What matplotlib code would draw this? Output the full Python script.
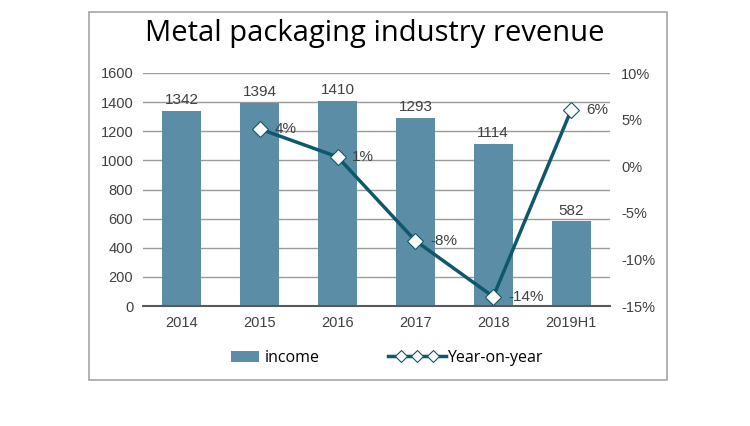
import matplotlib
matplotlib.use("Agg")
import matplotlib.pyplot as plt
from matplotlib.patches import Rectangle, Patch
from matplotlib.lines import Line2D
from matplotlib.legend_handler import HandlerTuple, HandlerLine2D
from matplotlib.ticker import FuncFormatter

years = ["2014", "2015", "2016", "2017", "2018", "2019H1"]
income = [1342, 1394, 1410, 1293, 1114, 582]
yoy_years = ["2015", "2016", "2017", "2018", "2019H1"]
yoy = [4, 1, -8, -14, 6]

bar_color = "#5b8ea6"
line_color = "#0f586b"
tick_color = "#404040"

fig = plt.figure(figsize=(7.5, 4.26), dpi=100)
fig.patch.set_facecolor("white")

# outer frame
fig.patches.append(Rectangle((89 / 750, 1 - 380 / 426), (667 - 89) / 750, (380 - 12) / 426,
                             transform=fig.transFigure, fill=False, edgecolor="#a6a6a6", linewidth=1.2))

ax = fig.add_axes([143 / 750, 1 - 306 / 426, (610 - 143) / 750, (306 - 73) / 426])
x = list(range(len(years)))
ax.bar(x, income, width=0.5, color=bar_color, zorder=2)
for xi, v in zip(x, income):
    ax.text(xi, v + 25, str(v), ha="center", va="bottom", fontsize=11,
            family="Liberation Sans", color=tick_color, zorder=3)

ax.set_ylim(0, 1600)
ax.set_yticks(range(0, 1601, 200))
ax.set_xlim(-0.5, len(years) - 0.5)
ax.set_xticks(x)
ax.set_xticklabels(years)
ax.grid(axis="y", color="#9a9a9a", linewidth=1, zorder=0)
for s in ["top", "left", "right"]:
    ax.spines[s].set_visible(False)
ax.spines["bottom"].set_color("#595959")
ax.spines["bottom"].set_linewidth(1.5)
ax.tick_params(axis="both", length=0, labelsize=10.5, labelcolor=tick_color, pad=7)
for lab in ax.get_xticklabels() + ax.get_yticklabels():
    lab.set_family("Liberation Sans")

ax2 = ax.twinx()
ax2.set_position(ax.get_position())
xl = [years.index(y) for y in yoy_years]
ax2.plot(xl, yoy, color=line_color, linewidth=2.5, marker="D", markersize=8,
         markerfacecolor="white", markeredgecolor=line_color, markeredgewidth=0.8, zorder=4)
for xi, v in zip(xl, yoy):
    ax2.text(xi + 0.19, v, f"{v}%", ha="left", va="center", fontsize=11,
             family="Liberation Sans", color=tick_color, zorder=5)
ax2.set_ylim(-15, 10)
ax2.set_yticks(range(-15, 11, 5))
ax2.yaxis.set_major_formatter(FuncFormatter(lambda v, p: f"{int(v)}%"))
for s in ["top", "left", "right", "bottom"]:
    ax2.spines[s].set_visible(False)
ax2.tick_params(axis="y", length=0, labelsize=10.5, labelcolor=tick_color, pad=8)
for lab in ax2.get_yticklabels():
    lab.set_family("Liberation Sans")

fig.text(375 / 750, 1 - 34 / 426, "Metal packaging industry revenue", ha="center", va="center",
         fontsize=21, family="Open Sans", color="black")

# legend, two pieces so each handle gets its own length
leg_y = 1 - 358 / 426
leg_font = {"family": "Open Sans", "size": 11.5}
leg1 = fig.legend([Patch(facecolor=bar_color, edgecolor="none")], ["income"],
                  loc="center left", bbox_to_anchor=(231 / 750, leg_y), frameon=False, prop=leg_font,
                  borderpad=0, borderaxespad=0, handlelength=1.75, handletextpad=0.35)

line_h = Line2D([0], [0], color=line_color, linewidth=2.5)
mark_h = Line2D([0], [0], linestyle="none", marker="D", markersize=6,
                markerfacecolor="white", markeredgecolor=line_color, markeredgewidth=0.8)
fig.legend([(line_h, mark_h)], ["Year-on-year"], loc="center left",
           bbox_to_anchor=(388 / 750, leg_y), frameon=False, prop=leg_font,
           borderpad=0, borderaxespad=0, handlelength=3.6, handletextpad=0.1,
           handler_map={tuple: HandlerTuple(ndivide=1, pad=0),
                        mark_h: HandlerLine2D(numpoints=3, marker_pad=0.8)})

fig.savefig("out.png", dpi=100)
